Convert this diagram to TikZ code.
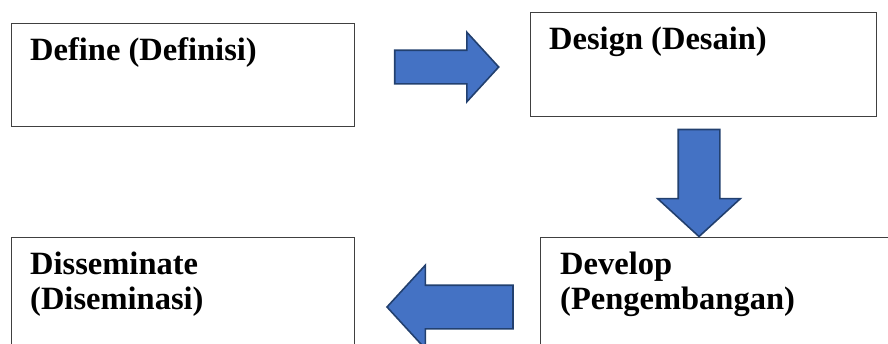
\documentclass[tikz,border=0pt]{standalone}
\usepackage{fontspec}
\setmainfont{Liberation Serif}
\usetikzlibrary{shapes.arrows, positioning}
\definecolor{arrowfill}{HTML}{4472C4}
\definecolor{arrowline}{HTML}{22406F}
\tikzstyle{box} = [
    rectangle,
    anchor=north west,
    inner sep=0pt,
    draw=black!75,
    line width=0.9pt
]
\tikzstyle{boxtext} = [
    anchor=base west,
    align=left,
    inner sep=0pt,
    font=\fontsize{32.5}{35}\selectfont\bfseries
]
\tikzstyle{blockarrow} = [
    single arrow,
    draw=arrowline,
    fill=arrowfill,
    line width=1.6pt,
    inner xsep=0pt,
    minimum width=0pt,
    single arrow tip angle=95
]

\begin{document}
\begin{tikzpicture}[x=1pt, y=-1pt]

    \clip (0,0) rectangle (888,343);

    % Boxes
    \node (define) [box, minimum width=343pt, minimum height=103pt] at (11,22.7) {};
    \node (design) [box, minimum width=346pt, minimum height=104pt] at (530,12.3) {};
    \node (develop) [box, minimum width=360pt, minimum height=120pt] at (540,236.7) {};
    \node (dissem) [box, minimum width=343pt, minimum height=120pt] at (11,237) {};

    % Texts
    \node (definetext) [boxtext] at ([shift={(19pt,-37.5pt)}]define.north west) {Define (Definisi)};
    \node (designtext) [boxtext] at ([shift={(19pt,-37.5pt)}]design.north west) {Design (Desain)};
    \node (developtext) [boxtext] at ([shift={(20pt,-72.5pt)}]develop.north west) {Develop\\(Pengembangan)};
    \node (dissemtext) [boxtext] at ([shift={(19pt,-72.5pt)}]dissem.north west) {Disseminate\\(Diseminasi)};

    % Block arrows
    \node (toDesign) [blockarrow, inner ysep=16pt, single arrow head extend=18pt, minimum height=104pt] at (439,67) {};
    \node (toDevelop) [blockarrow, inner ysep=20pt, single arrow head extend=20.5pt, minimum height=107pt, rotate=-90] at (699,173.5) {};
    \node (toDissem) [blockarrow, inner ysep=21pt, single arrow head extend=20pt, minimum height=126pt, rotate=180] at (460,307) {};

\end{tikzpicture}
\end{document}
